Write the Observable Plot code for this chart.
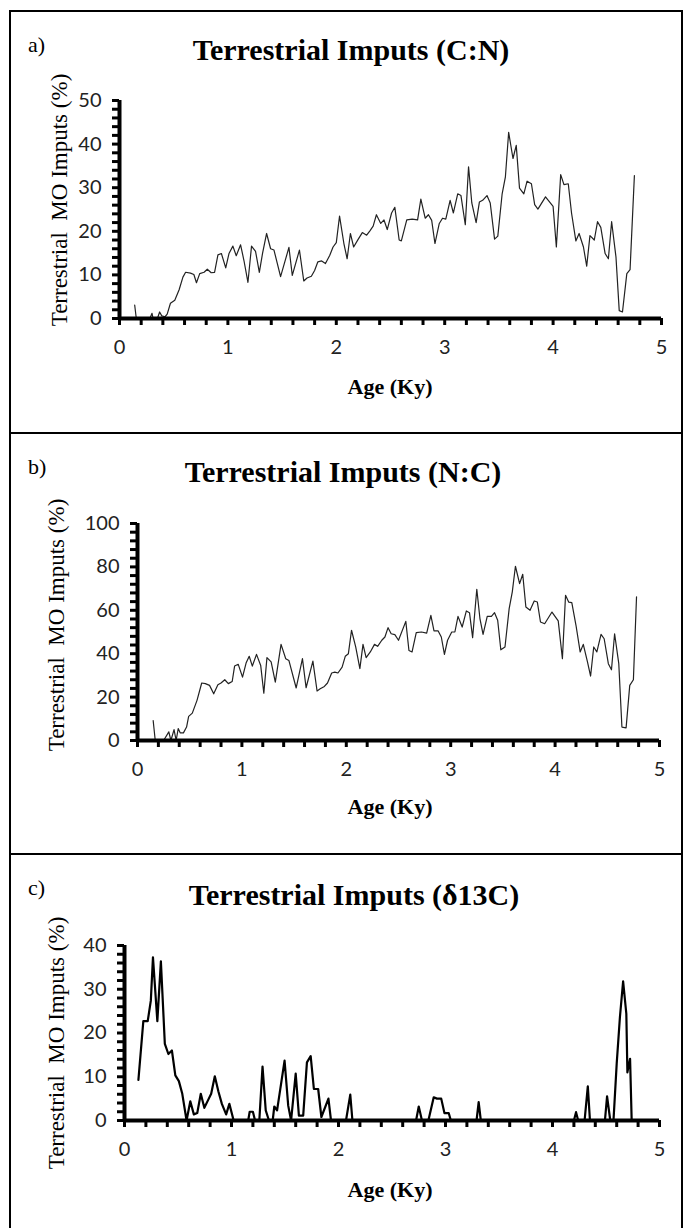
<!DOCTYPE html>
<html><head><meta charset="utf-8">
<script src="https://cdn.jsdelivr.net/npm/d3@7"></script>
<script src="https://cdn.jsdelivr.net/npm/@observablehq/plot@0.6"></script>
<style>
body{margin:0;background:#fff;}
#page{position:relative;width:684px;height:1228px;overflow:hidden;background:#fff;}
.frame{position:absolute;left:9px;width:674px;border:2.5px solid #000;box-sizing:border-box;}
.panel{position:absolute;left:0;width:684px;}
.lbl{position:absolute;font-family:"Liberation Serif","Times New Roman",serif;color:#000;white-space:pre;line-height:1;}
.title{font-weight:bold;font-size:30px;transform:translate(-50%,-50%);}
.letter{font-size:22px;}
.xlab{font-weight:bold;font-size:22px;transform:translate(-50%,-50%);}
.ylab{font-size:23px;transform:translate(-50%,-50%) rotate(-90deg);}
.panel svg{position:absolute;left:0;top:0;}
</style></head>
<body><div id="page"></div>
<script>
// ---- Data ----
const ageA = [0.14,0.155,0.2,0.28,0.30,0.31,0.35,0.37,0.39,0.42,0.44,0.47,0.51,0.55,0.585,0.61,0.655,0.686,0.71,0.74,0.78,0.81,0.846,0.877,0.908,0.94,0.98,1.01,1.046,1.077,1.117,1.148,1.185,1.218,1.255,1.29,1.32,1.357,1.394,1.425,1.486,1.563,1.594,1.66,1.70,1.73,1.77,1.80,1.83,1.865,1.90,1.94,1.97,2.0,2.03,2.07,2.10,2.13,2.16,2.20,2.24,2.28,2.31,2.34,2.37,2.41,2.44,2.47,2.51,2.54,2.58,2.60,2.65,2.70,2.75,2.78,2.82,2.85,2.88,2.91,2.95,2.98,3.01,3.05,3.08,3.12,3.15,3.19,3.22,3.25,3.29,3.32,3.35,3.39,3.42,3.46,3.49,3.53,3.56,3.59,3.63,3.66,3.69,3.73,3.76,3.80,3.83,3.86,3.93,4.0,4.03,4.07,4.10,4.14,4.17,4.21,4.24,4.28,4.31,4.34,4.38,4.41,4.44,4.48,4.51,4.54,4.58,4.61,4.64,4.68,4.71,4.75];
const cnA = [3.1,0,0,0,1.2,0,0,1.5,0.6,0.4,1.0,3.5,4.2,6.6,9.5,10.6,10.4,10.1,8.2,10.3,10.6,11.3,10.5,10.6,14.6,14.9,11.6,14.9,16.6,14.4,16.9,13.3,8.3,16.6,15.4,10.6,15.0,19.5,16.0,15.7,9.6,16.3,9.9,15.7,8.6,9.3,9.7,11.0,13.0,13.2,12.6,14.5,16.4,17.4,23.5,17.2,13.7,19.5,16.4,18.1,19.7,19.1,20.1,21.2,23.8,21.8,22.6,20.4,24.2,25.5,18.0,17.8,22.6,22.8,22.6,27.4,23.0,23.8,22.5,17.2,21.8,23.0,22.8,27.1,24.2,28.6,28.2,21.5,34.8,26.5,22.0,26.7,27.1,28.2,26.5,18.2,18.9,28.6,32.5,42.7,36.7,39.7,29.9,28.6,31.5,30.9,26.1,25.1,27.9,25.7,16.4,33.0,30.7,30.9,24.2,17.8,19.5,16.4,12.0,19.0,18.0,22.2,20.9,14.9,13.7,22.2,14.1,1.8,1.5,10.3,11.2,32.8];

const ageB = [0.15,0.17,0.25,0.30,0.32,0.35,0.37,0.39,0.41,0.44,0.47,0.49,0.525,0.57,0.615,0.65,0.69,0.73,0.77,0.80,0.836,0.87,0.907,0.93,0.965,1.006,1.04,1.07,1.10,1.14,1.18,1.21,1.24,1.28,1.32,1.375,1.42,1.45,1.52,1.58,1.615,1.68,1.72,1.75,1.79,1.82,1.86,1.89,1.92,1.96,1.99,2.02,2.05,2.09,2.13,2.16,2.19,2.23,2.27,2.30,2.34,2.37,2.40,2.43,2.465,2.50,2.57,2.60,2.63,2.67,2.72,2.77,2.81,2.84,2.88,2.91,2.94,2.97,3.01,3.04,3.07,3.11,3.15,3.18,3.21,3.25,3.28,3.31,3.35,3.39,3.42,3.45,3.48,3.52,3.56,3.59,3.62,3.66,3.69,3.72,3.76,3.80,3.83,3.86,3.90,3.97,4.03,4.07,4.10,4.13,4.16,4.20,4.24,4.27,4.31,4.34,4.37,4.40,4.44,4.47,4.51,4.54,4.57,4.61,4.64,4.68,4.715,4.75,4.78];
const ncB = [9.2,0,0,4,0,5,0,5.5,3.5,3.5,6.2,11.1,12.6,18.5,26.5,26.2,25.4,21.5,25.7,26.5,28.0,26.2,27.2,34.3,35.1,29.2,35.7,38.8,34.3,39.7,34.6,21.8,38.2,36.2,26.9,44.3,37.7,36.9,24.2,37.7,24.3,36.6,22.8,23.8,24.9,26.5,31.1,31.5,31.1,33.8,38.8,40.0,50.8,43.1,33.1,44.3,38.2,40.8,44.3,43.4,46.2,47.7,52.0,49.2,48.8,46.2,54.9,41.5,40.8,49.7,50.0,49.5,57.7,50.5,50.5,47.7,39.7,46.2,50.0,50.0,57.2,52.3,59.7,58.9,47.4,69.7,56.2,48.9,57.2,57.2,58.9,55.4,41.8,43.1,60.8,68.5,80.3,72.3,76.6,61.5,60.0,64.3,63.8,54.6,53.8,59.2,55.1,37.7,66.9,63.8,63.5,53.1,40.8,44.3,36.2,29.7,43.1,40.8,48.9,46.9,35.4,32.6,49.2,35.4,6.2,5.8,25.4,28.0,66.2];

const ageC = [0.13,0.176,0.217,0.246,0.266,0.307,0.34,0.377,0.41,0.443,0.475,0.508,0.54,0.58,0.615,0.648,0.68,0.713,0.746,0.78,0.81,0.844,0.877,0.91,0.95,0.98,1.02,1.156,1.17,1.20,1.22,1.26,1.29,1.32,1.35,1.385,1.40,1.426,1.496,1.53,1.557,1.60,1.63,1.67,1.705,1.74,1.77,1.81,1.84,1.906,1.93,2.07,2.11,2.13,2.725,2.75,2.78,2.84,2.89,2.92,2.96,2.99,3.03,3.05,3.29,3.31,3.33,4.20,4.22,4.24,4.30,4.33,4.35,4.49,4.51,4.54,4.57,4.60,4.63,4.66,4.69,4.70,4.725,4.74];
const d13C = [9.3,22.7,22.7,27.4,37.3,22.7,36.4,17.5,15.2,16.0,10.3,9.0,6.1,0,4.4,1.4,1.7,6.1,2.9,4.6,6.1,10.1,6.7,3.8,1.4,3.8,0,0,2.0,2.0,0,0,12.3,2.3,0,0,3.2,2.3,13.7,3.4,0,10.7,1.1,1.1,13.3,14.7,7.2,7.2,0.8,5.0,0,0,5.9,0,0,3.2,0,0,5.3,5.0,5.0,1.7,1.7,0,0,4.2,0,0,1.9,0,0,7.8,0,0,5.5,0,0,13.0,23.6,31.8,24.4,11.0,14.1,0];

const xTickLabels = [0,1,2,3,4,5];
const yTicksA = [0,10,20,30,40,50];
const yTicksB = [0,20,40,60,80,100];
const yTicksC = [0,10,20,30,40];
const titles = ["Terrestrial Imputs (C:N)","Terrestrial Imputs (N:C)","Terrestrial Imputs (\u03b413C)"];
const letters = ["a)","b)","c)"];
const yTitle = "Terrestrial  MO Imputs (%)";
const xTitle = "Age (Ky)";

// ---- Layout ----
const page = document.getElementById("page");
const panels = [
  {top:10, h:422, ml:119, mr:23, mt:90, mb:114, ages:ageA, vals:cnA, yMax:50, yTicks:yTicksA, minor:2, sw:1.2, col:"#222", titleX:351, titleY:50, ylabX:59, ylabY:200, ageY:387},
  {top:432, h:421, ml:137, mr:25, mt:91, mb:113, ages:ageB, vals:ncB, yMax:100, yTicks:yTicksB, minor:4, sw:1.2, col:"#222", titleX:343, titleY:472, ylabX:56, ylabY:625, ageY:807},
  {top:853, h:375, ml:124, mr:25, mt:92, mb:108, ages:ageC, vals:d13C, yMax:40, yTicks:yTicksC, minor:2, sw:2.2, col:"#000", titleX:354, titleY:895, ylabX:56, ylabY:1043, ageY:1190}
];

[[10,422],[432,421],[853,400]].forEach(([t,h])=>{
  const f=document.createElement("div"); f.className="frame";
  f.style.top=t+"px"; f.style.height=(h+2)+"px"; page.appendChild(f);
});

panels.forEach((p,i)=>{
  const div=document.createElement("div"); div.className="panel";
  div.style.top=p.top+"px"; div.style.height=p.h+"px";
  page.appendChild(div);
  const data = p.ages.map((a,j)=>({age:a, v:p.vals[j]}));
  const yMinor = d3.range(0, p.yMax+0.001, p.minor);
  const xMinor = d3.range(0, 5.001, 0.2);
  const chart = Plot.plot({
    width:684, height:p.h,
    marginLeft:p.ml, marginRight:p.mr, marginTop:p.mt, marginBottom:p.mb,
    x:{domain:[0,5]},
    y:{domain:[0,p.yMax]},
    style:{fontFamily:"Lato, 'Open Sans', sans-serif", fontSize:"20px", color:"#000", background:"transparent"},
    marks:[
      Plot.axisY({ticks:yMinor, tickSize:7, strokeWidth:3, stroke:"#000", tickFormat:()=>"", label:null}),
      Plot.axisY({ticks:p.yTicks, tickSize:0, tickPadding:18, label:null, fill:"#222"}),
      Plot.axisX({ticks:xMinor, tickSize:7, strokeWidth:3, stroke:"#000", tickFormat:()=>"", label:null}),
      Plot.axisX({ticks:xTickLabels, tickSize:0, tickPadding:21, label:null, fill:"#222", tickFormat:d=>String(d)}),
      Plot.line(data,{x:"age", y:"v", stroke:p.col, strokeWidth:p.sw}),
      Plot.ruleX([0],{strokeWidth:4, stroke:"#000"}),
      Plot.ruleY([0],{strokeWidth:4, stroke:"#000"})
    ]
  });
  div.appendChild(chart);
  const add=(cls,txt,x,y)=>{const e=document.createElement("div"); e.className="lbl "+cls; e.textContent=txt; e.style.left=x+"px"; e.style.top=y+"px"; page.appendChild(e);};
  add("title",titles[i],p.titleX,p.titleY);
  add("letter",letters[i],28,p.top+24);
  add("ylab",yTitle,p.ylabX,p.ylabY);
  add("xlab",xTitle,390,p.ageY);
});
</script></body></html>
